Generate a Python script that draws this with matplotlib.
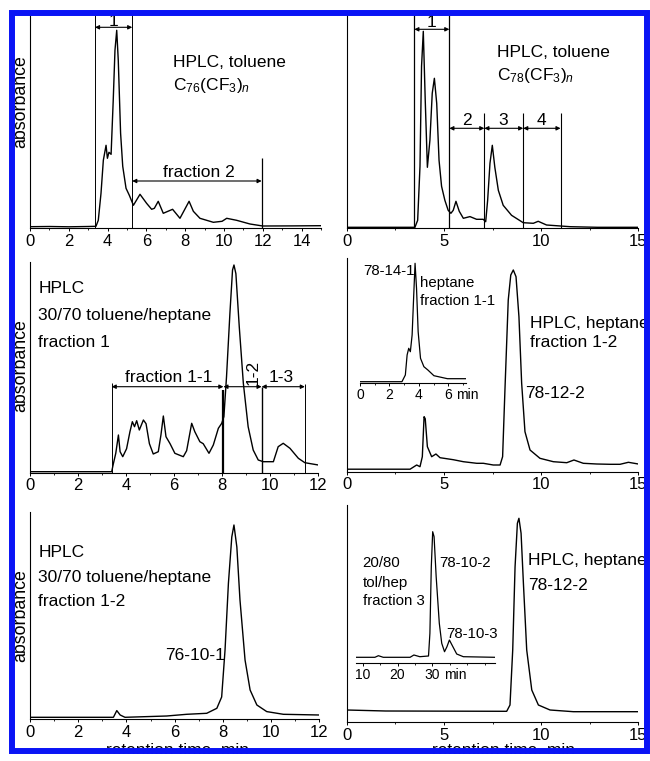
import matplotlib.pyplot as plt
from matplotlib.patches import Rectangle
from matplotlib.ticker import MultipleLocator

plt.rcParams['font.family'] = ['Liberation Sans', 'DejaVu Sans']
plt.rcParams['mathtext.fontset'] = 'custom'
plt.rcParams['mathtext.rm'] = 'Liberation Sans'
plt.rcParams['mathtext.it'] = 'Liberation Sans:italic'

W, H = 650, 761

# C76(CF3)n, toluene
t76_tol = [0, 1, 2, 3, 3.4, 3.52, 3.66, 3.78, 3.92, 3.99, 4.07, 4.18, 4.29, 4.38, 4.47, 4.55,
           4.67, 4.78, 4.95, 5.12, 5.33, 5.67, 6.01, 6.27, 6.41, 6.61, 6.87, 7.35, 7.73, 8.2,
           8.42, 8.76, 9.45, 9.9, 10.14, 10.65, 11.34, 12.0, 13.5, 15.0]
a76_tol = [1.6, 1.8, 1.5, 1.8, 2, 8, 35, 68, 83, 70, 76, 74, 128, 178, 198, 168,
           95, 62, 40, 33, 23, 34, 25, 19, 20, 27, 15, 19, 10, 27,
           17, 10, 6, 7, 10, 8, 4.3, 2.3, 2.4, 2.6]

# C78(CF3)n, toluene
t78_tol = [0, 3.51, 3.65, 3.77, 3.85, 3.94, 4.04, 4.15, 4.28, 4.40, 4.51, 4.63, 4.75, 4.88,
           5.05, 5.22, 5.36, 5.48, 5.62, 5.79, 6.0, 6.34, 6.68, 7.02, 7.15, 7.25, 7.37, 7.49,
           7.62, 7.8, 8.05, 8.48, 9.08, 9.6, 9.85, 10.28, 11.5, 12.9, 15]
a78_tol = [1, 1, 8, 62, 162, 197, 128, 61, 88, 135, 150, 125, 68, 42,
           28, 18, 15, 18, 27, 17, 10, 11.7, 9, 9, 6.6, 28, 65, 83,
           61, 38, 23, 13, 5.6, 5, 7, 3.3, 1.6, 1, 1]

# fraction 1 of C76, 30/70 toluene/heptane
t76_f1 = [0, 3.4, 3.47, 3.57, 3.68, 3.75, 3.86, 4.02, 4.16, 4.26, 4.35, 4.44, 4.55, 4.72, 4.83,
          4.97, 5.13, 5.34, 5.45, 5.55, 5.66, 5.83, 6.03, 6.38, 6.52, 6.73, 6.86, 7.07, 7.21,
          7.45, 7.63, 7.84, 7.98, 8.07, 8.18, 8.32, 8.43, 8.49, 8.57, 8.71, 8.88, 9.08, 9.29,
          9.5, 9.71, 10.13, 10.33, 10.54, 10.82, 11.17, 11.44, 12.0]
a76_f1 = [1, 1, 9, 19.4, 37.7, 21, 16, 24, 41, 51, 46, 52, 42.7, 52.7, 49,
          29, 18.7, 21, 37.7, 56.7, 36, 29, 19.4, 16, 22, 49.4, 41, 31, 29,
          19.4, 27.7, 44.4, 49.4, 56, 96, 159, 202.7, 207.7, 199, 146, 89.4, 46, 22.7,
          12.7, 11, 11, 26, 29.4, 24.4, 14.4, 10, 7.7]

# fraction 1-2 of C78, heptane
t78_f12 = [0, 3.26, 3.6, 3.77, 3.89, 3.98, 4.04, 4.15, 4.37, 4.59, 4.8, 5.48, 6.0, 6.69, 7.03,
           7.54, 7.89, 8.02, 8.14, 8.31, 8.44, 8.57, 8.71, 8.86, 9.0, 9.17, 9.43, 9.94, 10.63,
           11.32, 11.69, 12.17, 12.86, 13.55, 14.06, 14.49, 15]
a78_f12 = [2.5, 2.5, 6.7, 5, 15, 55, 53, 25, 15, 17.7, 14, 12, 10, 8.4, 8.4,
           6.7, 6.7, 15, 81.7, 171.7, 196.7, 201.7, 195, 155, 88.4, 40, 21.7, 13.4, 10,
           9, 11.7, 8.4, 7.7, 7.4, 7.4, 9.4, 7.7]

# inset: heptane fraction 1-1 (78-14-1)
t78_141 = [0, 2.85, 3.08, 3.2, 3.31, 3.42, 3.54, 3.65, 3.74, 3.84, 3.95, 4.11, 4.34, 4.61, 5.02, 5.94, 7.2]
a78_141 = [1, 1, 7.7, 27.7, 34.4, 31, 47.7, 87.7, 119.4, 94.4, 51, 24.4, 16, 12.7, 7, 4, 4]

# fraction 1-2 of C76, 30/70 toluene/heptane
t76_f12 = [0, 3.46, 3.6, 3.74, 3.94, 5.67, 6.5, 7.33, 7.75, 7.95, 8.09, 8.23, 8.37, 8.46, 8.58,
           8.71, 8.92, 9.13, 9.41, 9.82, 10.51, 12]
a76_f12 = [1.7, 1.7, 8.4, 4, 1.7, 3, 4.7, 5.7, 10.7, 22, 69, 135.7, 182, 194, 172,
           119, 59, 29, 14, 7.4, 4.7, 4]

# 78-12-2, heptane
t78_122 = [0, 2, 8.23, 8.4, 8.54, 8.66, 8.78, 8.86, 8.97, 9.09, 9.26, 9.52, 9.86, 10.46, 11.66, 15]
a78_122 = [12, 11, 10.7, 17, 72, 155, 198.7, 203.7, 188.7, 138.7, 72, 32, 17, 12, 10.3, 10.3]

# inset: 20/80 tol/hep fraction 3
t78_f3 = [8.1, 13.5, 14.5, 15.9, 23.6, 24.7, 26.4, 28.9, 29.3, 29.7, 30.1, 30.5, 31.1, 32.0,
          32.7, 33.5, 34.2, 34.9, 35.9, 37.0, 38.9, 48]
a78_f3 = [5.4, 5.4, 7, 5.4, 5.4, 7.7, 6, 6.7, 29.4, 96, 131, 126, 86, 39.4,
          19.4, 11, 16, 22.7, 16, 8.7, 6, 5.4]

fig = plt.figure(figsize=(W / 100, H / 100), dpi=100)


def px_axes(L, R, T, B, xlim, ylim, inset=False):
    ax = fig.add_axes([L / W, 1 - B / H, (R - L) / W, (B - T) / H])
    ax.set_xlim(*xlim)
    ax.set_ylim(*ylim)
    ax.set_facecolor('none')
    for s in ['top', 'right']:
        ax.spines[s].set_visible(False)
    if inset:
        ax.spines['left'].set_visible(False)
    for s in ax.spines.values():
        s.set_linewidth(0.8)
    ax.set_yticks([])
    fs = 10 if inset else 12
    ax.tick_params(axis='x', which='major', direction='out', length=2.5, width=0.7, pad=1.5, labelsize=fs)
    ax.tick_params(axis='x', which='minor', direction='out', length=1.5, width=0.6)
    return ax


def arrow(ax, x1, x2, y):
    ax.annotate('', xy=(x2, y), xytext=(x1, y),
                arrowprops=dict(arrowstyle='<|-|>', lw=0.8, color='black', shrinkA=0, shrinkB=0,
                                mutation_scale=6))


TS = 12.5  # annotation text size
IS = 10.8  # inset text size

# --- top left
ax = px_axes(30, 321, 15, 228.3, (0, 15), (0, 213.3))
ax.xaxis.set_major_locator(MultipleLocator(2))
ax.xaxis.set_minor_locator(MultipleLocator(1))
ax.plot(t76_tol, a76_tol, color='black', lw=1.0)
ax.vlines([3.35, 5.27], 0, 213.3, color='black', lw=0.7)
ax.vlines([11.94], 0, 70, color='black', lw=0.9)
arrow(ax, 3.35, 5.27, 201)
arrow(ax, 5.27, 11.94, 47.3)
ax.text(4.3, 202.5, '1', ha='center', va='baseline', fontsize=TS)
ax.text(8.71, 51.6, 'fraction 2', ha='center', va='baseline', fontsize=TS)
ax.text(7.39, 161.6, 'HPLC, toluene', ha='left', va='baseline', fontsize=TS)
ax.text(7.39, 138.3, r'C$_{76}$(CF$_3$)$_{\mathit{n}}$', ha='left', va='baseline', fontsize=TS)

# --- top right
ax = px_axes(346.7, 638.3, 15, 228.3, (0, 15), (0, 213.3))
ax.xaxis.set_major_locator(MultipleLocator(5))
ax.xaxis.set_minor_locator(MultipleLocator(2.5))
ax.plot(t78_tol, a78_tol, color='black', lw=1.0)
ax.vlines([3.48, 5.28], 0, 213.3, color='black', lw=0.9)
ax.vlines([7.08, 9.08, 11.0], 0, 115, color='black', lw=0.8)
arrow(ax, 3.48, 5.28, 199)
arrow(ax, 5.28, 7.08, 100)
arrow(ax, 7.08, 9.08, 100)
arrow(ax, 9.08, 11.0, 100)
ax.text(4.37, 201.6, '1', ha='center', va='baseline', fontsize=TS)
for xc, lab in zip([6.17, 8.05, 10.03], ['2', '3', '4']):
    ax.text(xc, 103.3, lab, ha='center', va='baseline', fontsize=TS)
ax.text(7.71, 171, 'HPLC, toluene', ha='left', va='baseline', fontsize=TS)
ax.text(7.71, 148.3, r'C$_{78}$(CF$_3$)$_{\mathit{n}}$', ha='left', va='baseline', fontsize=TS)

# --- middle left
ax = px_axes(30, 318.3, 261.7, 472.7, (0, 12), (0, 211))
ax.xaxis.set_major_locator(MultipleLocator(2))
ax.xaxis.set_minor_locator(MultipleLocator(1))
ax.plot(t76_f1, a76_f1, color='black', lw=1.0)
ax.vlines([3.4], 0, 89.4, color='black', lw=0.7)
ax.vlines([8.05], 0, 82.7, color='black', lw=1.6)
ax.vlines([9.64], 0, 86, color='black', lw=1.0)
ax.vlines([11.44], 0, 89, color='black', lw=0.7)
arrow(ax, 3.4, 8.05, 86)
arrow(ax, 8.05, 9.64, 86)
arrow(ax, 9.64, 11.44, 86)
ax.text(5.79, 91, 'fraction 1-1', ha='center', va='baseline', fontsize=TS)
ax.text(9.3, 100, '1-2', ha='center', va='center', rotation=90, fontsize=TS)
ax.text(10.47, 91, '1-3', ha='center', va='baseline', fontsize=TS)
ax.text(0.35, 179.4, 'HPLC', ha='left', va='baseline', fontsize=TS)
ax.text(0.35, 152.7, '30/70 toluene/heptane', ha='left', va='baseline', fontsize=TS)
ax.text(0.35, 126, 'fraction 1', ha='left', va='baseline', fontsize=TS)

# --- middle right
ax = px_axes(346.7, 638.3, 258, 471.7, (0, 15), (0, 213.7))
ax.xaxis.set_major_locator(MultipleLocator(5))
ax.xaxis.set_minor_locator(MultipleLocator(2.5))
ax.plot(t78_f12, a78_f12, color='black', lw=1.0)
ax.text(9.43, 143.4, 'HPLC, heptane', ha='left', va='baseline', fontsize=TS)
ax.text(9.43, 125, 'fraction 1-2', ha='left', va='baseline', fontsize=TS)
ax.text(9.17, 73.4, '78-12-2', ha='left', va='baseline', fontsize=TS)

ax = px_axes(360, 466, 262, 382.7, (0, 7.2), (0, 120.7), inset=True)
ax.xaxis.set_major_locator(MultipleLocator(2))
ax.xaxis.set_minor_locator(MultipleLocator(1))
ax.plot(t78_141, a78_141, color='black', lw=0.9)
ax.annotate('min', xy=(6.5, 0), xycoords=('data', 'axes fraction'), xytext=(0, -4),
            textcoords='offset points', ha='left', va='top', fontsize=10)
ax.set_xticks([0, 2, 4, 6])
ax.text(3.69, 107.7, '78-14-1', ha='right', va='baseline', fontsize=IS)
ax.text(4.08, 96, 'heptane', ha='left', va='baseline', fontsize=IS)
ax.text(4.08, 77.7, 'fraction 1-1', ha='left', va='baseline', fontsize=IS)

# --- bottom left
ax = px_axes(30, 319.3, 511.7, 719, (0, 12), (0, 207.3))
ax.xaxis.set_major_locator(MultipleLocator(2))
ax.xaxis.set_minor_locator(MultipleLocator(1))
ax.plot(t76_f12, a76_f12, color='black', lw=1.0)
ax.text(0.35, 161.7, 'HPLC', ha='left', va='baseline', fontsize=TS)
ax.text(0.35, 137.3, '30/70 toluene/heptane', ha='left', va='baseline', fontsize=TS)
ax.text(0.35, 113, 'fraction 1-2', ha='left', va='baseline', fontsize=TS)
ax.text(8.09, 59, '76-10-1', ha='right', va='baseline', fontsize=TS)

# --- bottom right
ax = px_axes(346.7, 638.3, 505, 722, (0, 15), (0, 217))
ax.xaxis.set_major_locator(MultipleLocator(5))
ax.xaxis.set_minor_locator(MultipleLocator(2.5))
ax.plot(t78_122, a78_122, color='black', lw=1.0)
ax.text(9.34, 157, 'HPLC, heptane', ha='left', va='baseline', fontsize=TS)
ax.text(9.34, 132, '78-12-2', ha='left', va='baseline', fontsize=TS)

ax = px_axes(356, 495, 525, 662.7, (8.07, 48), (0, 137.7), inset=True)
ax.set_xticks([10, 20, 30])
ax.xaxis.set_minor_locator(MultipleLocator(5))
ax.plot(t78_f3, a78_f3, color='black', lw=0.9)
ax.annotate('min', xy=(33.3, 0), xycoords=('data', 'axes fraction'), xytext=(0, -4),
            textcoords='offset points', ha='left', va='top', fontsize=10)
ax.text(10, 96, '20/80', ha='left', va='baseline', fontsize=IS)
ax.text(10, 76, 'tol/hep', ha='left', va='baseline', fontsize=IS)
ax.text(10, 57.7, 'fraction 3', ha='left', va='baseline', fontsize=IS)
ax.text(31.9, 96, '78-10-2', ha='left', va='baseline', fontsize=IS)
ax.text(33.9, 24.4, '78-10-3', ha='left', va='baseline', fontsize=IS)

# axis titles
for yc in [101.7, 366, 616]:
    fig.text(20.5 / W, 1 - yc / H, 'absorbance', rotation=90, ha='center', va='center', fontsize=12.8)
for xc in [178, 503]:
    fig.text(xc / W, 1 - 743 / H, 'retention time, min', ha='center', va='top', fontsize=12.5)

# white margin and blue selection frame
fig.patches.append(Rectangle((0, 0), 1, 7 / H, transform=fig.transFigure, facecolor='white',
                             edgecolor='none', zorder=9))
fig.patches.append(Rectangle((0, 1 - 10 / H), 1, 10 / H, transform=fig.transFigure, facecolor='white',
                             edgecolor='none', zorder=9))
fig.patches.append(Rectangle((12 / W, 1 - 751 / H), (646.5 - 12) / W, (751 - 13) / H,
                             transform=fig.transFigure, facecolor='none', edgecolor='#0a14f5',
                             lw=4.3, zorder=10))

fig.savefig('out.png', dpi=100)
